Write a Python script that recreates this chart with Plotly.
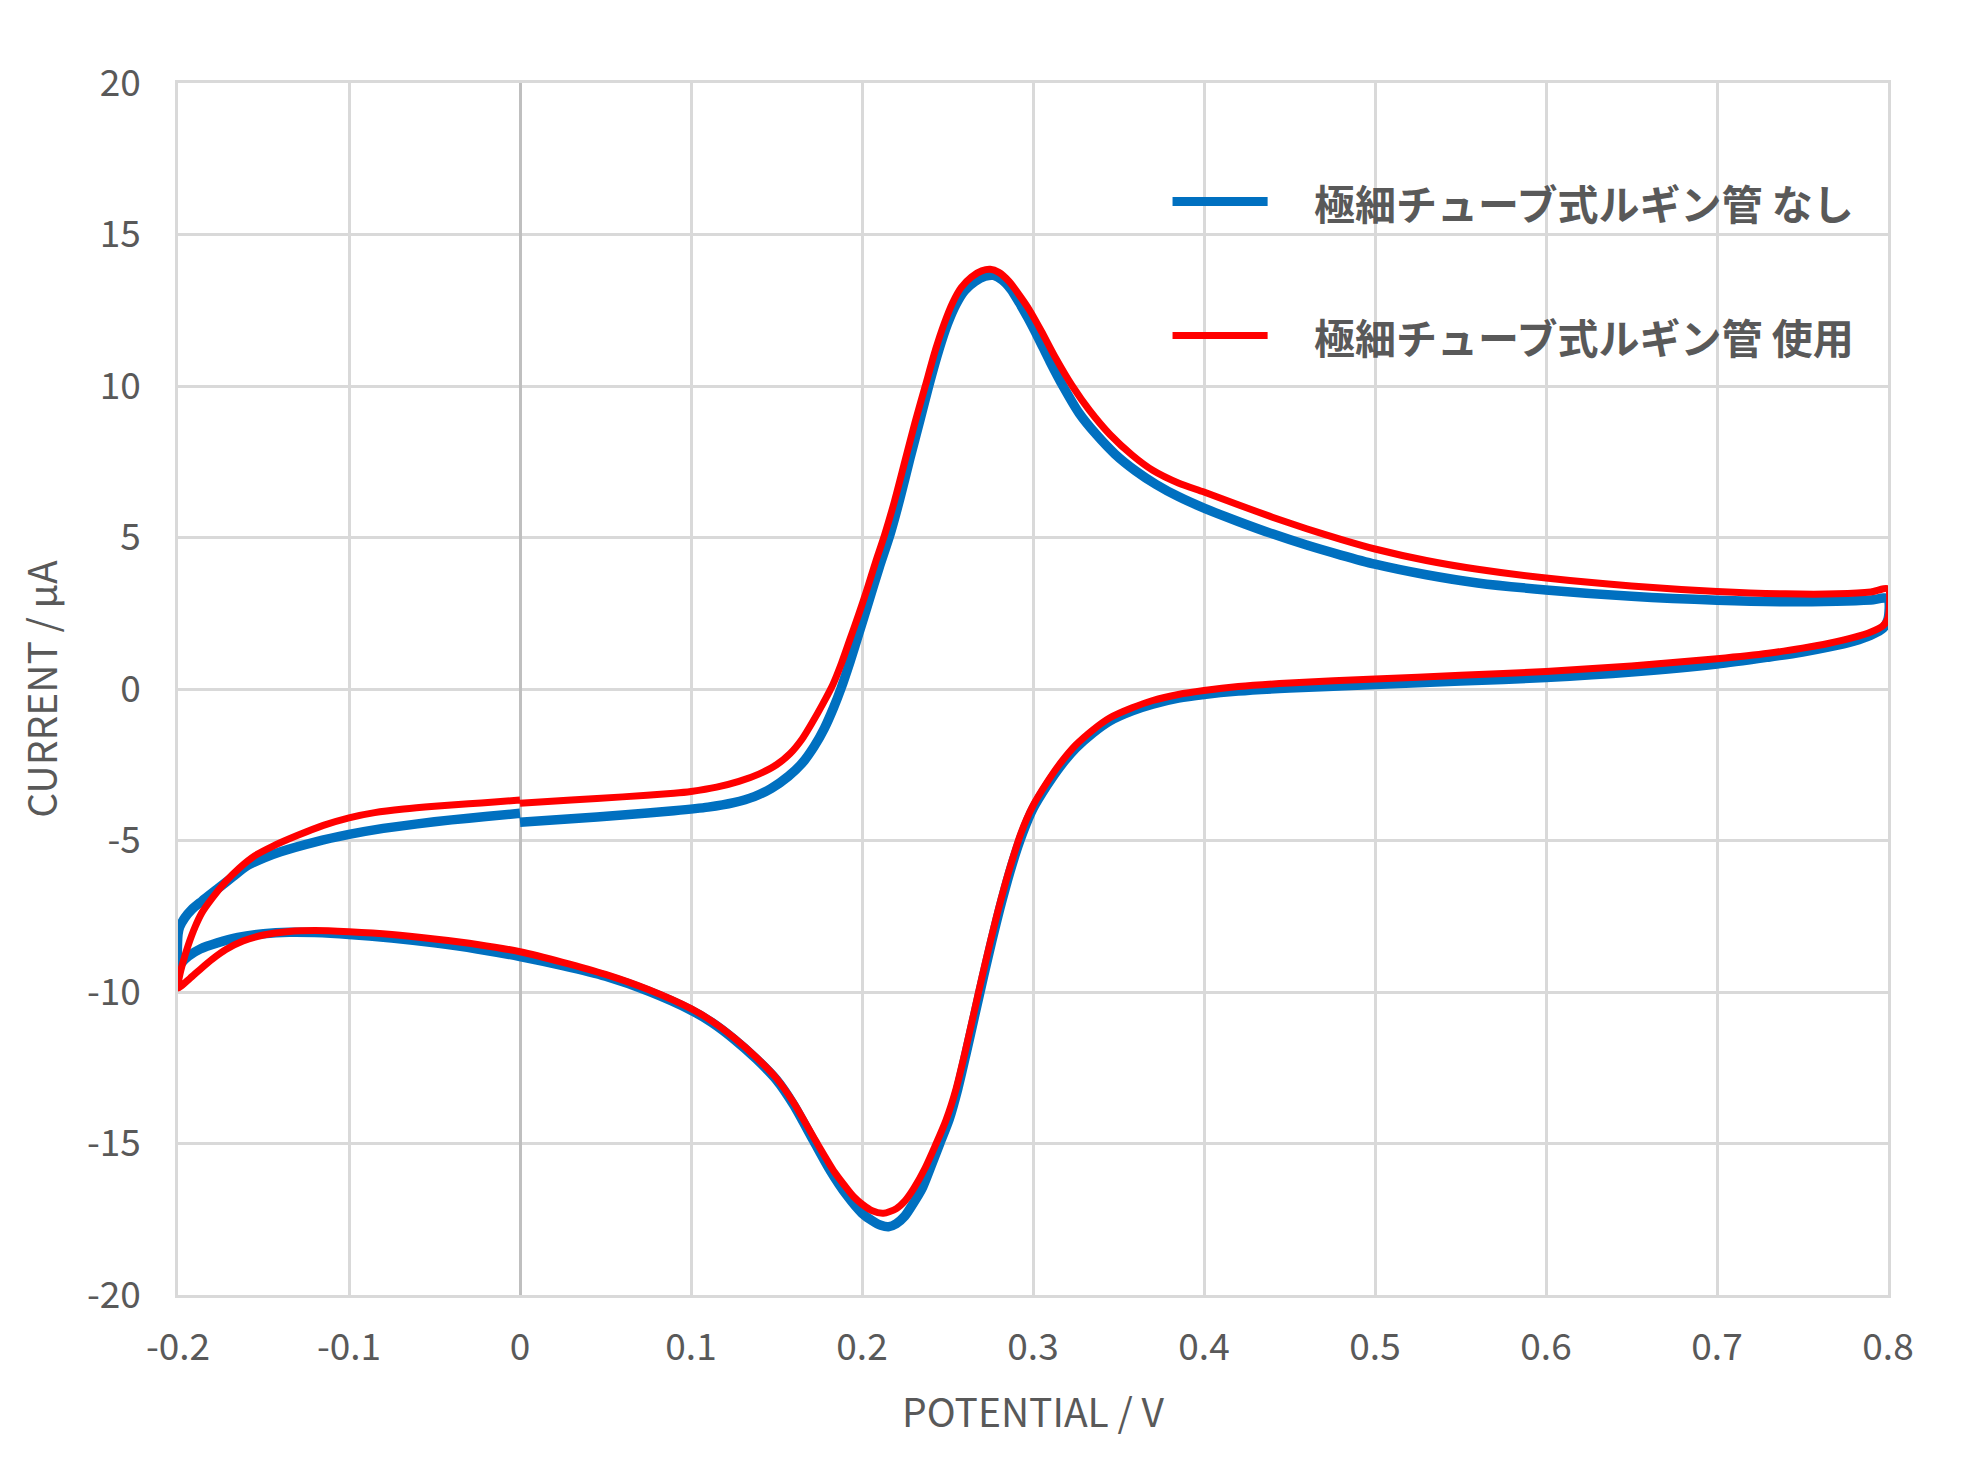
import plotly.graph_objects as go

# ---------------- data ----------------
series_names = ["極細チューブ式ルギン管 なし", "極細チューブ式ルギン管 使用"]
series_colors = ["#0070C0", "#FF0000"]

# Without Luggin tube (blue): scan 0 -> 0.8 -> -0.2 -> 0 V
blue_potential = [
    # forward scan 0 -> 0.8
    0.0, 0.03, 0.06, 0.09, 0.11, 0.125, 0.137, 0.147, 0.157, 0.165, 0.172, 0.178,
    0.1835, 0.1876, 0.193, 0.198, 0.204, 0.21, 0.2164, 0.222, 0.228, 0.234, 0.239,
    0.245, 0.25, 0.255, 0.26, 0.266, 0.272, 0.277, 0.282, 0.287, 0.292, 0.297,
    0.303, 0.31, 0.318, 0.327, 0.337, 0.348, 0.36, 0.372, 0.385, 0.4, 0.42, 0.44,
    0.46, 0.48, 0.5, 0.53, 0.56, 0.6, 0.65, 0.7, 0.74, 0.77, 0.79, 0.8,
    # reverse scan 0.8 -> -0.2
    0.8, 0.797, 0.79, 0.78, 0.765, 0.75, 0.73, 0.7, 0.65, 0.6, 0.55, 0.5, 0.45,
    0.42, 0.4, 0.385, 0.37, 0.358, 0.345, 0.335, 0.325, 0.316, 0.308, 0.3, 0.294,
    0.288, 0.282, 0.276, 0.271, 0.266, 0.261, 0.256, 0.251, 0.2455, 0.24, 0.235,
    0.2303, 0.225, 0.22, 0.2155, 0.211, 0.206, 0.2, 0.191, 0.1815,
    0.1716, 0.16, 0.15, 0.138, 0.125, 0.112, 0.1, 0.075, 0.05,
    0.025, 0.0, -0.025, -0.05, -0.075, -0.1, -0.12, -0.135, -0.15, -0.165, -0.177,
    -0.187, -0.194, -0.198, -0.2,
    # forward scan -0.2 -> 0
    -0.2, -0.199, -0.196, -0.192, -0.186, -0.177, -0.168, -0.16, -0.15, -0.14,
    -0.12, -0.1, -0.08, -0.06, -0.04, -0.02, 0.0,
]
blue_current = [
    -4.40, -4.28, -4.16, -4.02, -3.9, -3.75, -3.55, -3.28, -2.88, -2.45, -1.9, -1.3,
    -0.6, 0.0, 0.9, 1.8, 2.9, 4.0, 5.1, 6.25, 7.6, 8.9, 10.0,
    11.2, 12.05, 12.7, 13.15, 13.45, 13.62, 13.65, 13.5, 13.2, 12.75, 12.25,
    11.6, 10.8, 9.95, 9.1, 8.4, 7.75, 7.2, 6.75, 6.35, 5.97, 5.53, 5.12,
    4.75, 4.42, 4.12, 3.77, 3.5, 3.27, 3.06, 2.93, 2.88, 2.9, 2.94, 2.98,
    2.3, 2.0, 1.78, 1.58, 1.38, 1.22, 1.05, 0.82, 0.56, 0.38, 0.26, 0.15, 0.03,
    -0.07, -0.18, -0.3, -0.5, -0.72, -1.05, -1.45, -1.95, -2.55, -3.2, -3.95, -4.75,
    -5.75, -6.95, -8.3, -9.5, -10.75, -12.0, -13.2, -14.2, -15.0, -15.8, -16.5,
    -16.95, -17.4, -17.65, -17.75, -17.7, -17.55, -17.3, -16.7, -15.9,
    -14.9, -13.72, -12.9, -12.2, -11.55, -11.0, -10.6, -9.97, -9.48,
    -9.13, -8.83, -8.58, -8.38, -8.22, -8.1, -8.04, -8.03, -8.08, -8.2, -8.38,
    -8.58, -8.82, -9.05, -9.25,
    -8.1, -7.85, -7.55, -7.28, -7.0, -6.6, -6.2, -5.85, -5.58, -5.37,
    -5.05, -4.8, -4.6, -4.45, -4.32, -4.21, -4.1,
]

# With Luggin tube (red)
red_potential = [
    0.0, 0.03, 0.06, 0.09, 0.1, 0.115, 0.128, 0.14, 0.15, 0.158, 0.165, 0.171,
    0.177, 0.183, 0.188, 0.193, 0.198, 0.203, 0.208, 0.213, 0.219, 0.225, 0.231,
    0.237, 0.243, 0.248, 0.253, 0.258, 0.264, 0.27, 0.275, 0.28, 0.286, 0.292,
    0.298, 0.305, 0.313, 0.323, 0.333, 0.345, 0.358, 0.37, 0.385, 0.4, 0.42, 0.44,
    0.46, 0.48, 0.5, 0.53, 0.56, 0.6, 0.65, 0.7, 0.74, 0.77, 0.79, 0.8,
    0.8, 0.797, 0.79, 0.78, 0.765, 0.75, 0.73, 0.7, 0.65, 0.6, 0.55, 0.5, 0.45,
    0.42, 0.4, 0.385, 0.37, 0.358, 0.345, 0.335, 0.325, 0.316, 0.308, 0.3, 0.293,
    0.287, 0.281, 0.275, 0.27, 0.265, 0.26, 0.255, 0.249, 0.243, 0.237, 0.2303,
    0.225, 0.22, 0.2125, 0.206, 0.2, 0.195, 0.19, 0.184, 0.173,
    0.16, 0.15, 0.138, 0.125, 0.112, 0.1, 0.075, 0.05, 0.025, 0.0,
    -0.025, -0.05, -0.075, -0.1, -0.12, -0.135, -0.15, -0.162, -0.172, -0.18,
    -0.187, -0.193, -0.2,
    -0.199, -0.197, -0.194, -0.19, -0.186, -0.18, -0.172, -0.164, -0.155, -0.145,
    -0.13, -0.115, -0.1, -0.085, -0.068, -0.05, -0.03, -0.015, 0.0,
]
red_current = [
    -3.77, -3.66, -3.56, -3.44, -3.38, -3.24, -3.05, -2.8, -2.5, -2.13, -1.65, -1.1,
    -0.5, 0.15, 0.85, 1.65, 2.45, 3.3, 4.2, 5.05, 6.2, 7.5, 8.8,
    10.0, 11.2, 12.05, 12.75, 13.25, 13.6, 13.8, 13.85, 13.75, 13.45, 13.0,
    12.5, 11.8, 10.95, 10.0, 9.2, 8.4, 7.72, 7.22, 6.8, 6.5, 6.08, 5.67,
    5.29, 4.94, 4.62, 4.24, 3.95, 3.66, 3.4, 3.22, 3.14, 3.14, 3.2, 3.3,
    2.34, 2.08, 1.88, 1.7, 1.5, 1.35, 1.18, 1.0, 0.76, 0.58, 0.45, 0.33, 0.2,
    0.08, -0.05, -0.18, -0.38, -0.62, -0.95, -1.35, -1.85, -2.45, -3.1, -3.85, -4.75,
    -5.8, -7.0, -8.35, -9.55, -10.8, -12.05, -13.2, -14.25, -15.05, -15.8, -16.48,
    -16.9, -17.15, -17.3, -17.22, -17.0, -16.75, -16.4, -15.95, -14.92,
    -13.65, -12.85, -12.15, -11.5, -10.95, -10.55, -9.92, -9.42, -9.02, -8.67,
    -8.43, -8.25, -8.1, -8.01, -7.97, -8.0, -8.12, -8.32, -8.6, -8.92,
    -9.25, -9.55, -9.87,
    -9.45, -9.0, -8.45, -7.85, -7.38, -6.9, -6.35, -5.9, -5.5, -5.2,
    -4.83, -4.5, -4.25, -4.08, -3.96, -3.87, -3.79, -3.73, -3.66,
]

x_tick_values = [-0.2, -0.1, 0.0, 0.1, 0.2, 0.3, 0.4, 0.5, 0.6, 0.7, 0.8]
x_tick_labels = ["-0.2", "-0.1", "0", "0.1", "0.2", "0.3", "0.4", "0.5", "0.6", "0.7", "0.8"]
y_tick_values = [20, 15, 10, 5, 0, -5, -10, -15, -20]
y_tick_labels = ["20", "15", "10", "5", "0", "-5", "-10", "-15", "-20"]

x_title = "POTENTIAL / V"
y_title = "CURRENT / μA"

# ---------------- figure ----------------
FONT = "Noto Sans CJK JP"
TXT = "#595959"
GRID = "#d9d9d9"
line_widths = [9.5, 7]

fig = go.Figure()
fig.add_trace(go.Scatter(
    x=blue_potential, y=blue_current, mode="lines", name=series_names[0],
    line=dict(color=series_colors[0], width=line_widths[0], shape="spline", smoothing=0.7),
))
fig.add_trace(go.Scatter(
    x=red_potential, y=red_current, mode="lines", name=series_names[1],
    line=dict(color=series_colors[1], width=line_widths[1], shape="spline", smoothing=0.7),
))

# legend drawn as keys + labels (paper coordinates)
legend_rows_y = [0.9022, 0.7916]
for name, color, lw, ly in zip(series_names, series_colors, [9, 7], legend_rows_y):
    fig.add_shape(type="line", xref="paper", yref="paper",
                  x0=0.5816, x1=0.6372, y0=ly, y1=ly,
                  line=dict(color=color, width=lw))
    fig.add_annotation(xref="paper", yref="paper", x=0.663, y=ly,
                       xanchor="left", yanchor="middle", showarrow=False,
                       text=name,
                       font=dict(family=FONT, size=41, color=TXT, weight="bold"))

fig.update_layout(
    width=1959, height=1467,
    margin=dict(l=170, r=79, t=75, b=180, autoexpand=False),
    paper_bgcolor="white", plot_bgcolor="white",
    font=dict(family=FONT, color=TXT, size=37),
    showlegend=False,
)
fig.update_xaxes(
    range=[-0.2, 0.8], tickvals=x_tick_values, ticktext=x_tick_labels,
    showgrid=True, gridcolor=GRID, gridwidth=2.5,
    zeroline=True, zerolinecolor="#bfbfbf", zerolinewidth=2.5,
    showline=True, linecolor=GRID, linewidth=2.5, mirror=True,
    ticks="", ticklabelstandoff=18,
    tickfont=dict(family=FONT, size=37, color=TXT),
    title=dict(text=x_title, font=dict(family=FONT, size=39, color=TXT), standoff=30),
)
fig.update_yaxes(
    range=[-20, 20], tickvals=y_tick_values, ticktext=y_tick_labels,
    showgrid=True, gridcolor=GRID, gridwidth=2.5,
    zeroline=False,
    showline=True, linecolor=GRID, linewidth=2.5, mirror=True,
    ticks="", ticklabelstandoff=27,
    tickfont=dict(family=FONT, size=37, color=TXT),
    title=dict(text=y_title, font=dict(family=FONT, size=39, color=TXT), standoff=18),
)

fig.write_html("out.html")
